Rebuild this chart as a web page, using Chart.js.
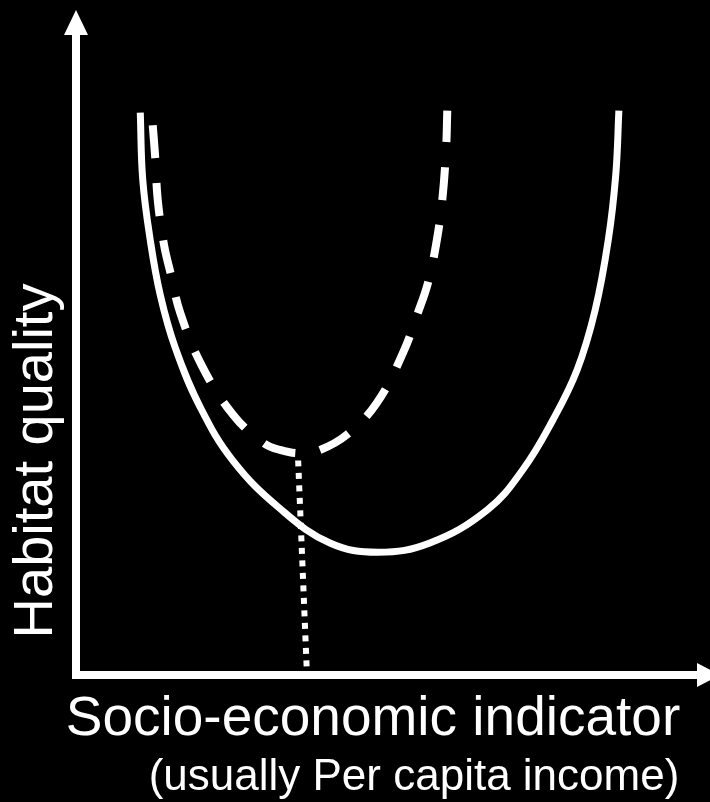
<!DOCTYPE html>
<html>
<head>
<meta charset="utf-8">
<title>Habitat quality</title>
<script src="https://cdn.jsdelivr.net/npm/chart.js@4"></script>
<style>
  html, body { margin: 0; padding: 0; background: #000; }
  #grafico { display: block; }
</style>
</head>
<body>
<canvas id="grafico" width="710" height="802"></canvas>
<script>
// valores (eixos sem escala, 0-100)
const solidX = [10.3, 10.7, 11.9, 13.5, 15.9, 19.9, 25.2, 32.7, 40.7, 48.4, 56.7, 65.9, 71.6, 76.4, 80.3, 83.2, 85.3, 86.5, 87.0];
const solidY = [85.2, 75.0, 65.9, 57.6, 49.6, 40.6, 32.4, 25.2, 20.0, 18.6, 20.0, 25.0, 31.1, 38.6, 46.2, 55.3, 65.9, 75.8, 85.5];

const dashedX = [12.3, 12.7, 13.1, 14.1, 15.1, 16.7, 20.2, 25.2, 30.0, 32.7, 35.9, 39.1, 43.4, 48.2, 52.4, 54.8, 56.4, 57.7, 58.7, 59.3, 59.5];
const dashedY = [83.3, 78.3, 72.0, 65.2, 61.1, 54.9, 46.8, 39.4, 35.2, 34.1, 33.6, 34.1, 36.4, 41.2, 48.8, 54.9, 59.4, 65.2, 72.0, 79.6, 85.5];

const dotX = [35.6, 37.0];
const dotY = [32.5, 0.4];

const xLabel = 'Socio-economic indicator';
const xSubLabel = '(usually Per capita income)';
const yLabel = 'Habitat quality';

const toPoints = (xs, ys) => xs.map((x, i) => ({ x: x, y: ys[i] }));

// eixos com setas e textos
const eixosPlugin = {
    id: 'eixos',
    beforeDraw(chart) {
        const c = chart.ctx;
        c.save();
        c.fillStyle = '#000';
        c.fillRect(0, 0, chart.width, chart.height);
        c.restore();
    },
    afterDraw(chart) {
        const c = chart.ctx;
        const x0 = chart.scales.x.getPixelForValue(0);
        const y0 = chart.scales.y.getPixelForValue(0);
        const top = chart.chartArea.top;
        const right = chart.chartArea.right;

        c.save();
        c.strokeStyle = '#fff';
        c.fillStyle = '#fff';
        c.lineWidth = 8;
        c.lineCap = 'butt';

        c.beginPath();
        c.moveTo(x0, y0 + 4);
        c.lineTo(x0, top + 20);
        c.moveTo(x0 - 4, y0);
        c.lineTo(right - 3, y0);
        c.stroke();

        // seta vertical
        c.beginPath();
        c.moveTo(x0, top - 5);
        c.lineTo(x0 - 12, top + 20);
        c.lineTo(x0 + 12, top + 20);
        c.closePath();
        c.fill();

        // seta horizontal
        c.beginPath();
        c.moveTo(right + 20, y0);
        c.lineTo(right - 3, y0 - 12);
        c.lineTo(right - 3, y0 + 12);
        c.closePath();
        c.fill();

        c.font = '55px "Liberation Sans", Arial, sans-serif';
        c.textAlign = 'center';
        c.textBaseline = 'alphabetic';
        c.fillText(xLabel, 373, 735);

        c.font = '44px "Liberation Sans", Arial, sans-serif';
        c.fillText(xSubLabel, 414, 790);

        c.translate(52, 461);
        c.rotate(-Math.PI / 2);
        c.font = '56px "Liberation Sans", Arial, sans-serif';
        c.fillText(yLabel, 0, 0);
        c.restore();
    }
};

const ctx = document.getElementById('grafico').getContext('2d');

const grafico = new Chart(ctx, {
    type: 'line',
    data: {
        datasets: [{
            label: 'solid',
            data: toPoints(solidX, solidY),
            borderColor: '#fff',
            borderWidth: 7,
            tension: 0.4,
            pointRadius: 0
        }, {
            label: 'dashed',
            data: toPoints(dashedX, dashedY),
            borderColor: '#fff',
            borderWidth: 8,
            borderDash: [33, 25],
            borderCapStyle: 'butt',
            tension: 0.4,
            pointRadius: 0
        }, {
            label: 'dotted',
            data: toPoints(dotX, dotY),
            borderColor: '#fff',
            borderWidth: 6,
            borderDash: [6, 6.5],
            borderCapStyle: 'butt',
            pointRadius: 0
        }]
    },
    options: {
        responsive: false,
        animation: false,
        layout: {
            padding: { left: 76, right: 10, top: 15, bottom: 127 }
        },
        scales: {
            x: { type: 'linear', min: 0, max: 100, display: false },
            y: { type: 'linear', min: 0, max: 100, display: false }
        },
        plugins: {
            legend: { display: false },
            tooltip: { enabled: false }
        }
    },
    plugins: [eixosPlugin]
});
</script>
</body>
</html>
